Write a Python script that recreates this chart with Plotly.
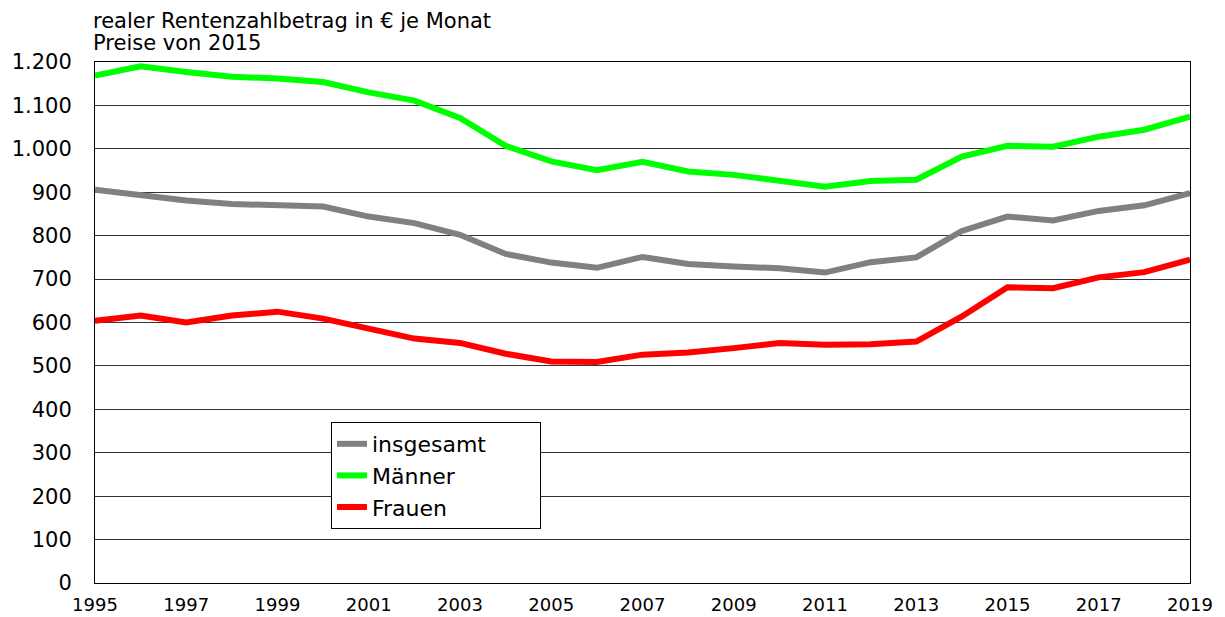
import plotly.graph_objects as go

years = list(range(1995, 2020))
insgesamt = [906, 893, 881, 873, 870, 867, 844, 829, 802, 758, 738, 726, 751, 735, 729, 725, 715, 739, 750, 811, 844, 835, 857, 870, 898]
maenner = [1169, 1190, 1177, 1166, 1162, 1154, 1130, 1111, 1071, 1007, 971, 951, 970, 948, 940, 925, 913, 926, 929, 982, 1007, 1005, 1028, 1044, 1074]
frauen = [604, 616, 600, 616, 625, 609, 586, 563, 553, 528, 510, 509, 526, 531, 541, 553, 549, 550, 556, 614, 681, 679, 704, 716, 745]

series = [("insgesamt", insgesamt, "#808080"), ("Männer", maenner, "#00ff00"), ("Frauen", frauen, "#ff0000")]
title_lines = ["realer Rentenzahlbetrag in € je Monat", "Preise von 2015"]

fig = go.Figure()
for i, (name, vals, col) in enumerate(series):
    label = name + ("\u00a0" * 7 if i == 0 else "")
    fig.add_trace(go.Scatter(x=years, y=vals, mode="lines", name=label,
                             line=dict(color=col, width=6), legendgroup=f"g{i}"))

fig.update_layout(
    width=1217, height=609,
    margin=dict(l=87, r=35, t=54, b=34),
    plot_bgcolor="white", paper_bgcolor="white",
    separators=",.",
    font=dict(family="DejaVu Sans, sans-serif", color="black", size=17),
    showlegend=True,
    legend=dict(x=0.2155, y=0.309, xanchor="left", yanchor="top",
                bordercolor="black", borderwidth=1, bgcolor="white",
                font=dict(size=22), tracegroupgap=0, itemwidth=30),
    xaxis=dict(range=[1995, 2019], tickmode="array", tickvals=list(range(1995, 2020, 2)),
               showgrid=False, zeroline=False, showline=True, linecolor="black", linewidth=1,
               mirror=True, ticks="", ticklabelstandoff=5, automargin=False,
               tickfont=dict(size=18)),
    yaxis=dict(range=[0, 1200], dtick=100, tickformat=",d", showgrid=True, gridcolor="#333333",
               gridwidth=1, zeroline=False, showline=True, linecolor="black", linewidth=1,
               mirror=True, ticks="", ticklabelstandoff=18, automargin=False,
               tickfont=dict(size=21)),
    annotations=[
        dict(text=title_lines[0], xref="paper", yref="paper", x=0.0, y=1.0,
             xanchor="left", yanchor="middle", yshift=41, xshift=-4, showarrow=False,
             font=dict(size=21)),
        dict(text=title_lines[1], xref="paper", yref="paper", x=0.0, y=1.0,
             xanchor="left", yanchor="middle", yshift=19, xshift=-4, showarrow=False,
             font=dict(size=21)),
    ],
)

fig.write_html("out.html")
